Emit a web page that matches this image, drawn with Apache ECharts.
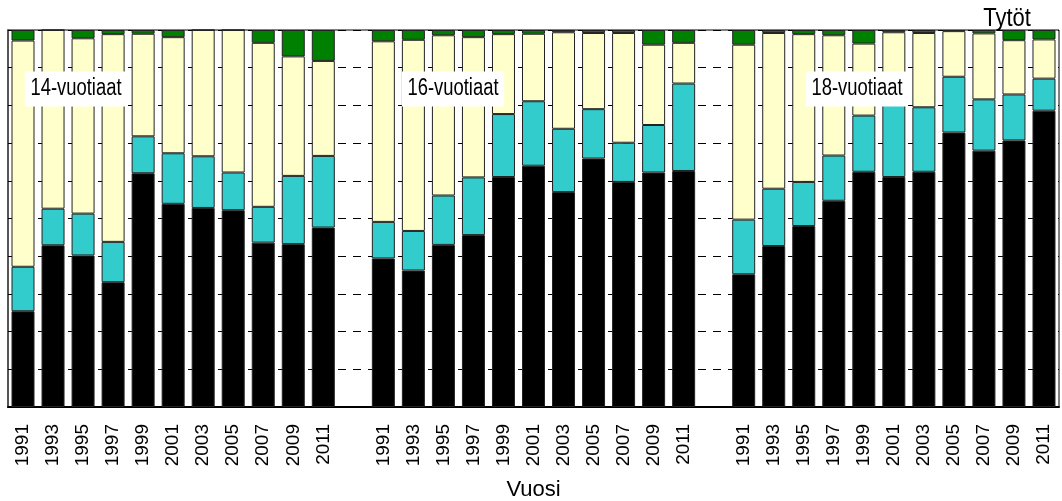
<!DOCTYPE html>
<html>
<head>
<meta charset="utf-8">
<style>
  html, body { margin: 0; padding: 0; background: #fff; }
  #chart { width: 1062px; height: 501px; }
</style>
<script src="https://cdn.jsdelivr.net/npm/echarts@6/dist/echarts.min.js"></script>
</head>
<body>
<div id="chart"></div>
<script>
const fontFamily = "'Liberation Sans', Arial, sans-serif";

// vuodet (sama jokaisessa ikäryhmässä)
const years = ['1991', '1993', '1995', '1997', '1999', '2001', '2003', '2005', '2007', '2009', '2011'];
const groupLabels = ['14-vuotiaat', '16-vuotiaat', '18-vuotiaat'];
const yTicks = [0, 10, 20, 30, 40, 50, 60, 70, 80, 90, 100];

// osuudet (%) alhaalta ylös: musta, turkoosi, vaalea, vihreä
const black14 = [25.4, 42.9, 40.2, 33.1, 62.0, 53.9, 52.8, 52.2, 43.6, 43.2, 47.6];
const cyan14 = [11.8, 9.7, 11.1, 10.7, 9.8, 13.4, 13.7, 10.0, 9.5, 18.1, 19.0];
const yellow14 = [60.0, 47.4, 46.5, 55.1, 27.2, 30.8, 33.5, 37.8, 43.5, 31.7, 25.2];
const green14 = [2.8, 0, 2.2, 1.1, 1.0, 1.9, 0, 0, 3.4, 7.0, 8.2];

const black16 = [39.4, 36.2, 43.0, 45.6, 61.0, 64.0, 57.0, 65.9, 59.7, 62.2, 62.6];
const cyan16 = [9.7, 10.5, 13.1, 15.3, 16.7, 17.1, 16.8, 13.1, 10.4, 12.6, 23.2];
const yellow16 = [47.9, 50.7, 42.5, 37.2, 21.2, 17.9, 25.6, 20.2, 29.1, 21.3, 10.8];
const green16 = [3.0, 2.6, 1.4, 1.9, 1.1, 1.0, 0.6, 0.8, 0.8, 3.9, 3.4];

const black18 = [35.2, 42.7, 48.0, 54.7, 62.4, 61.0, 62.4, 72.8, 68.0, 70.7, 78.6];
const cyan18 = [14.5, 15.2, 11.7, 12.0, 14.9, 20.5, 17.1, 14.8, 13.6, 12.2, 8.5];
const yellow18 = [46.4, 41.3, 39.2, 31.9, 19.1, 17.9, 19.7, 12.1, 17.5, 14.4, 10.4];
const green18 = [3.9, 0.8, 1.1, 1.4, 3.6, 0.6, 0.8, 0.3, 0.9, 2.7, 2.5];

// ryhmien väliin yksi tyhjä sarake
const categories = [...years, '', ...years, '', ...years];
const joinGroups = (a, b, c) => [...a, '-', ...b, '-', ...c];

const chart = echarts.init(document.getElementById('chart'));

const barBase = {
  type: 'bar',
  stack: 'total',
  barWidth: 23,
  itemStyle: { borderColor: '#222', borderWidth: 1 },
};

// kapea teksti: tavallinen fontti vaakasuunnassa puristettuna
const narrowText = (text, x, y, size, scale, extra) => ({
  type: 'text',
  x: x,
  y: y,
  z: 100,
  scaleX: scale,
  style: Object.assign({
    text: text,
    fill: '#000',
    font: size + 'px ' + fontFamily,
    align: 'center',
    verticalAlign: 'middle',
  }, extra || {}),
});

chart.setOption({
  animation: false,
  textStyle: { fontFamily: fontFamily },
  grid: {
    left: 8,
    right: 3,
    top: 30,
    bottom: 94,
    outerBoundsMode: 'none',
    show: true,
    borderColor: '#000',
    borderWidth: 1,
  },
  xAxis: {
    type: 'category',
    data: categories,
    name: 'Vuosi',
    nameLocation: 'middle',
    nameGap: 72,
    nameTextStyle: { fontSize: 22, color: '#000', fontFamily: fontFamily },
    axisLine: { show: true, lineStyle: { color: '#000', width: 2 } },
    axisTick: { show: false },
    axisLabel: {
      interval: 0,
      rotate: 90,
      margin: 17,
      fontSize: 19,
      color: '#000',
      fontFamily: fontFamily,
    },
  },
  yAxis: {
    type: 'value',
    min: yTicks[0],
    max: yTicks[yTicks.length - 1],
    interval: 10,
    axisLine: { show: true, lineStyle: { color: '#555', width: 2 } },
    axisTick: { show: true, inside: true, length: 4, lineStyle: { color: '#000' } },
    axisLabel: { show: false },
    splitLine: {
      show: true,
      lineStyle: { color: '#000', width: 1, type: [8, 7] },
    },
  },
  series: [
    { ...barBase, name: 'musta', data: joinGroups(black14, black16, black18), itemStyle: { ...barBase.itemStyle, color: '#000000' } },
    { ...barBase, name: 'turkoosi', data: joinGroups(cyan14, cyan16, cyan18), itemStyle: { ...barBase.itemStyle, color: '#33CCCC' } },
    { ...barBase, name: 'vaalea', data: joinGroups(yellow14, yellow16, yellow18), itemStyle: { ...barBase.itemStyle, color: '#FFFFCC' } },
    { ...barBase, name: 'vihreä', data: joinGroups(green14, green16, green18), itemStyle: { ...barBase.itemStyle, color: '#008000' } },
  ],
  graphic: [
    ...groupLabels.map((t, i) =>
      narrowText(t, [76, 453, 857][i], 89, 23, 0.8, {
        backgroundColor: '#fff',
        padding: [6, 7],
      })
    ),
    narrowText('Tytöt', 1007, 19, 25, 0.88),
  ],
});

window.addEventListener('resize', () => chart.resize());
</script>
</body>
</html>
